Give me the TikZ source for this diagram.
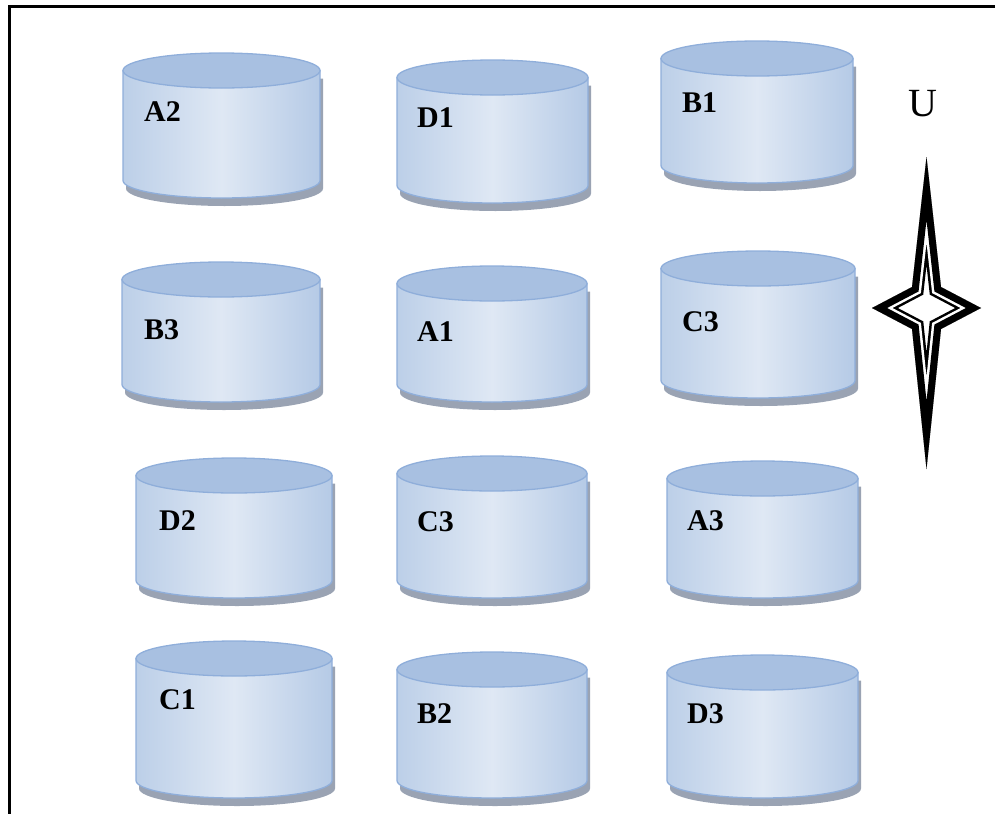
\documentclass[tikz,border=0pt]{standalone}
\usepackage{fontspec}
\setmainfont{Liberation Serif}

\definecolor{drumline}{HTML}{8FAEDA}
\definecolor{drumlidfill}{HTML}{A8C0E1}
\definecolor{drumlight}{HTML}{DFE8F4}
\definecolor{drumdark}{HTML}{BCCFE8}
\definecolor{drumshade}{HTML}{9AA3B3}

% one storage drum: #1 left x, #2 right x, #3 top of lid, #4 lowest point of body, #5 name
\newcommand\drumcyl[5]{%
  \pgfmathsetmacro\dcx{(#1+#2)/2}%
  \pgfmathsetmacro\drx{(#2-#1)/2}%
  \pgfmathsetmacro\dyt{#3+17.5}%
  \pgfmathsetmacro\dyb{#4-17.5}%
  \begin{scope}[shift={(3,8)}]
    \fill[drumshade] (#1,\dyt) -- (#1,\dyb) arc[start angle=180,end angle=0,x radius=\drx,y radius=17.5] -- (#2,\dyt) -- cycle;
  \end{scope}
  \path[drumbody] (#1,\dyt) -- (#1,\dyb) arc[start angle=180,end angle=0,x radius=\drx,y radius=17.5] -- (#2,\dyt) -- cycle;
  \path[drumlid] (\dcx,\dyt) ellipse[x radius=\drx,y radius=17.5];
  \coordinate (#5) at (\dcx,\dyt);
}

\begin{document}
\begin{tikzpicture}[x=1pt,y=-1pt,
  drumbody/.style={left color=drumdark,right color=drumdark!85!drumline,middle color=drumlight,draw=drumline,line width=1.3pt},
  drumlid/.style={fill=drumlidfill,draw=drumline,line width=1.3pt},
  drumlabel/.style={anchor=west,inner sep=0pt,font=\fontsize{30}{30}\selectfont\bfseries},
  frameline/.style={line width=3pt,black},
  starline/.style={line join=miter,miter limit=40}]
\useasboundingbox (0,0) rectangle (998,814);

% frame (top and left edges only)
\coordinate (ftl) at (9,6);
\coordinate (ftr) at (995,6);
\coordinate (fbl) at (9,814);
\draw[frameline] (ftr) -- (ftl) -- (fbl);

% drums, row by row
\drumcyl{123}{320}{53}{198}{cA2}
\drumcyl{397}{588}{60}{203}{cD1}
\drumcyl{661}{853}{41}{183}{cB1}
\drumcyl{122}{320}{262}{402}{cB3}
\drumcyl{397}{587}{266}{402}{cA1}
\drumcyl{661}{855}{251}{398}{cC3a}
\drumcyl{136}{332}{458}{598}{cD2}
\drumcyl{397}{587}{456}{598}{cC3b}
\drumcyl{667}{858}{461}{598}{cA3}
\drumcyl{136}{332}{641}{798}{cC1}
\drumcyl{397}{587}{652}{798}{cB2}
\drumcyl{667}{858}{655}{798}{cD3}

\node[drumlabel] (A2) at (144,112) {A2};
\node[drumlabel] (D1) at (417,118) {D1};
\node[drumlabel] (B1) at (682,103) {B1};
\node[drumlabel] (B3) at (144,330) {B3};
\node[drumlabel] (A1) at (417,332) {A1};
\node[drumlabel] (C3a) at (682,322) {C3};
\node[drumlabel] (D2) at (159,521) {D2};
\node[drumlabel] (C3b) at (417,522) {C3};
\node[drumlabel] (A3) at (687,521) {A3};
\node[drumlabel] (C1) at (159,700) {C1};
\node[drumlabel] (B2) at (417,714) {B2};
\node[drumlabel] (D3) at (687,714) {D3};

% compass mark
\node[font=\fontsize{40}{40}\selectfont] (U) at (923,104) {U};
\begin{scope}
  \coordinate (sT) at (926.5,157);
  \coordinate (sUR) at (941,287);
  \coordinate (sR) at (981,308);
  \coordinate (sLR) at (941,329);
  \coordinate (sB) at (926.5,469);
  \coordinate (sLL) at (912,329);
  \coordinate (sL) at (872,308);
  \coordinate (sUL) at (912,287);
  \clip (sT) -- (sUR) -- (sR) -- (sLR) -- (sB) -- (sLL) -- (sL) -- (sUL) -- cycle;
  \fill[white] (sT) -- (sUR) -- (sR) -- (sLR) -- (sB) -- (sLL) -- (sL) -- (sUL) -- cycle;
  \draw[starline,black,line width=24pt] (sT) -- (sUR) -- (sR) -- (sLR) -- (sB) -- (sLL) -- (sL) -- (sUL) -- cycle;
  \draw[starline,white,line width=19pt] (sT) -- (sUR) -- (sR) -- (sLR) -- (sB) -- (sLL) -- (sL) -- (sUL) -- cycle;
  \draw[starline,black,line width=14pt] (sT) -- (sUR) -- (sR) -- (sLR) -- (sB) -- (sLL) -- (sL) -- (sUL) -- cycle;
\end{scope}
\end{tikzpicture}
\end{document}
